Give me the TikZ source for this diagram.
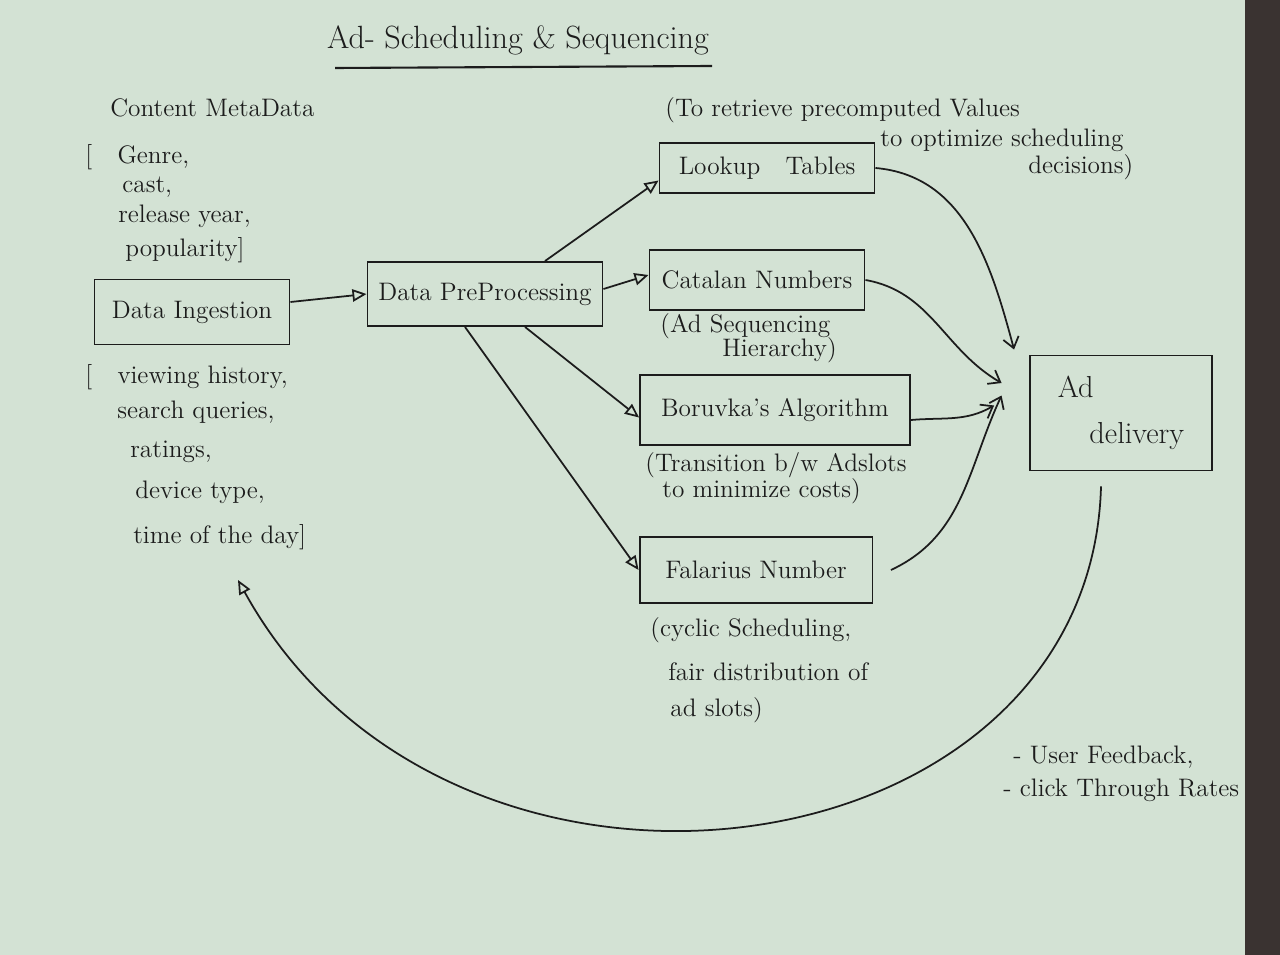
\documentclass[tikz,border=0pt]{standalone}
\definecolor{PaperMint}{HTML}{D3E2D4}
\definecolor{InkBlack}{HTML}{1C1C1C}
\definecolor{PageEdge}{HTML}{3A3331}
\usetikzlibrary{arrows.meta, positioning}

\begin{document}
\begin{tikzpicture}[x=0.02cm, y=-0.02cm,
    block/.style={draw=InkBlack, line width=1.1pt, font=\Large, text=InkBlack, inner sep=4pt},
    note/.style={font=\Large, text=InkBlack, anchor=west, inner sep=0pt},
    flow/.style={draw=InkBlack, line width=1pt, -{Triangle[open, length=8pt, width=7pt]}},
    merge/.style={draw=InkBlack, line width=1pt, -{Straight Barb[length=6pt, width=9pt]}}]
        % Paper
        \fill[PaperMint] (0, 0) rectangle (1280, 955);
        \fill[PageEdge] (1245, 0) rectangle (1280, 955);
        \useasboundingbox (0, 0) rectangle (1280, 955);

        % Title
        \node[font=\LARGE, text=InkBlack, scale=1.06] (title) at (518, 40) {Ad- Scheduling \& Sequencing};
        \draw[InkBlack, line width=1.2pt] (335, 68) -- (712, 66);

        % Content metadata
        \node[note] (meta) at (110, 108) {Content MetaData};
        \node[note] (meta1) at (85, 157) {[\quad Genre,};
        \node[note] (meta2) at (122, 187) {cast,};
        \node[note] (meta3) at (118, 216) {release year,};
        \node[note] (meta4) at (125, 250) {popularity]};

        % Ingestion and preprocessing
        \node[block, minimum width=3.9cm, minimum height=1.3cm] (ingest) at (192, 312) {Data Ingestion};
        \node[block, minimum width=4.7cm, minimum height=1.28cm] (prep) at (485, 294) {Data PreProcessing};

        % User signals
        \node[note] (hist1) at (85, 377) {[\quad viewing history,};
        \node[note] (hist2) at (117, 412) {search queries,};
        \node[note] (hist3) at (130, 452) {ratings,};
        \node[note] (hist4) at (135, 492) {device type,};
        \node[note] (hist5) at (133, 537) {time of the day]};

        % Scheduling techniques
        \node[block, minimum width=4.3cm, minimum height=1.0cm] (lookup) at (767, 168) {Lookup\quad Tables};
        \node[note] (look1) at (665, 110) {(To retrieve precomputed Values};
        \node[note] (look2) at (880, 140) {to optimize scheduling};
        \node[note] (look3) at (1028, 167) {decisions)};

        \node[block, minimum width=4.3cm, minimum height=1.2cm] (catalan) at (757, 280) {Catalan Numbers};
        \node[note] (cat1) at (660, 326) {(Ad Sequencing};
        \node[note] (cat2) at (722, 350) {Hierarchy)};

        \node[block, minimum width=5.4cm, minimum height=1.4cm] (boruvka) at (775, 410) {Boruvka's Algorithm};
        \node[note] (bor1) at (645, 465) {(Transition b/w Adslots};
        \node[note] (bor2) at (662, 491) {to minimize costs)};

        \node[block, minimum width=4.66cm, minimum height=1.32cm] (falarius) at (756, 570) {Falarius Number};
        \node[note] (fal1) at (650, 630) {(cyclic Scheduling,};
        \node[note] (fal2) at (668, 672) {fair distribution of};
        \node[note] (fal3) at (670, 710) {ad slots)};

        % Delivery
        \node[block, font=\LARGE, align=left, minimum width=3.64cm, minimum height=2.3cm] (ad) at (1121, 413) {Ad\\[4pt]\hspace*{18pt}delivery};

        % Feedback notes
        \node[note] (fb1) at (1013, 757) {- User Feedback,};
        \node[note] (fb2) at (1003, 790) {- click Through Rates};

        % Arrows into the techniques
        \draw[flow] ([yshift=0.2cm]ingest.east) -- (prep.west);
        \draw[flow] ([xshift=1.2cm]prep.north) -- ([yshift=-0.25cm]lookup.west);
        \draw[flow] ([yshift=0.1cm]prep.east) -- ([yshift=0.1cm]catalan.west);
        \draw[flow] ([xshift=0.8cm]prep.south) -- ([yshift=-0.15cm]boruvka.west);
        \draw[flow] ([xshift=-0.4cm]prep.south) -- (falarius.west);

        % Arrows into delivery
        \draw[merge] (lookup.east) to[out=-5, in=105] ([shift={(-0.3cm,0.1cm)}]ad.north west);
        \draw[merge] (catalan.east) to[out=-10, in=150] ([shift={(-0.55cm,0.6cm)}]ad.west);
        \draw[merge] ([yshift=-0.2cm]boruvka.east) to[out=5, in=210] ([shift={(-0.7cm,0.15cm)}]ad.west);
        \draw[merge] ([xshift=0.35cm]falarius.east) to[out=25, in=-115] ([shift={(-0.55cm,0.35cm)}]ad.west);

        % Feedback loop
        \draw[flow] ([xshift=-0.4cm, yshift=-0.3cm]ad.south) .. controls (1090, 880) and (450, 965) .. ([yshift=-0.6cm]hist5.south west -| 238, 0);
    \end{tikzpicture}
\end{document}
